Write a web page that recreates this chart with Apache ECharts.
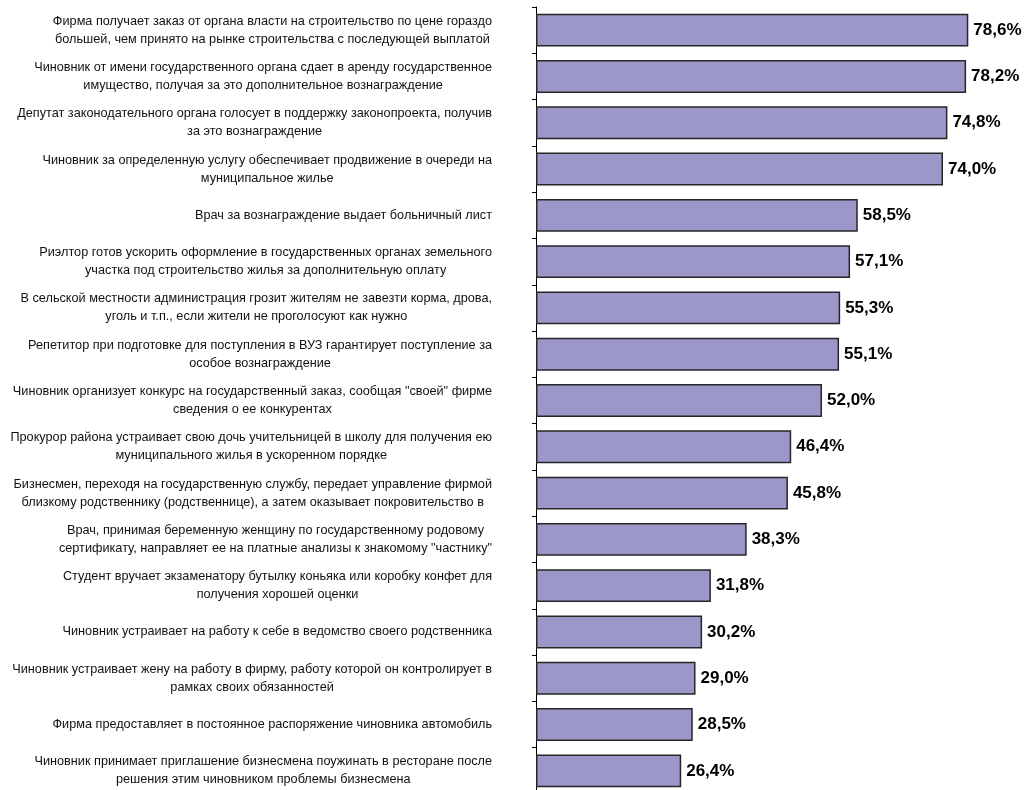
<!DOCTYPE html>
<html>
<head>
<meta charset="utf-8">
<script src="https://cdn.jsdelivr.net/npm/echarts@6/dist/echarts.min.js"></script>
<style>html,body{margin:0;padding:0;background:#fff;}#c{width:1031px;height:790px;}</style>
</head>
<body>
<div id="c"></div>
<script>
const categories = [
  "Фирма получает заказ от органа власти на строительство по цене гораздо\nбольшей, чем принято на рынке строительства с последующей выплатой",
  "Чиновник от имени государственного органа сдает в аренду государственное\nимущество, получая за это дополнительное вознаграждение",
  "Депутат законодательного органа голосует в поддержку законопроекта, получив\nза это вознаграждение",
  "Чиновник за определенную услугу обеспечивает продвижение в очереди на\nмуниципальное жилье",
  "Врач за вознаграждение выдает больничный лист",
  "Риэлтор готов ускорить оформление в государственных органах земельного\nучастка под строительство жилья за дополнительную оплату",
  "В сельской местности администрация грозит жителям не завезти корма, дрова,\nуголь и т.п., если жители не проголосуют как нужно",
  "Репетитор при подготовке для поступления в ВУЗ гарантирует поступление за\nособое вознаграждение",
  "Чиновник организует конкурс на государственный заказ, сообщая \"своей\" фирме\nсведения о ее конкурентах",
  "Прокурор района устраивает свою дочь учительницей в школу для получения ею\nмуниципального жилья в ускоренном порядке",
  "Бизнесмен, переходя на государственную службу, передает управление фирмой\nблизкому родственнику (родственнице), а затем оказывает покровительство в",
  "Врач, принимая беременную женщину по государственному родовому\nсертификату, направляет ее на платные анализы к знакомому \"частнику\"",
  "Студент вручает экзаменатору бутылку коньяка или коробку конфет для\nполучения хорошей оценки",
  "Чиновник устраивает на работу к себе в ведомство своего родственника",
  "Чиновник устраивает жену на работу в фирму, работу которой он контролирует в\nрамках своих обязанностей",
  "Фирма предоставляет в постоянное распоряжение чиновника автомобиль",
  "Чиновник принимает приглашение бизнесмена поужинать в ресторане после\nрешения этим чиновником проблемы бизнесмена"
];
const values = [78.6, 78.2, 74.8, 74.0, 58.5, 57.1, 55.3, 55.1, 52.0, 46.4, 45.8, 38.3, 31.8, 30.2, 29.0, 28.5, 26.4];

const FONT = '"Liberation Sans Narrow", "Arial Narrow", "Liberation Sans", Arial, sans-serif';
const chart = echarts.init(document.getElementById('c'));
chart.setOption({
  animation: false,
  backgroundColor: '#fff',
  grid: { left: 536, top: 7, width: 440, bottom: -4, containLabel: false, outerBoundsMode: 'none' },
  xAxis: {
    type: 'value', min: 0, max: 80, show: false
  },
  yAxis: {
    type: 'category', data: categories, inverse: true,
    axisLine: { show: true, lineStyle: { color: '#000', width: 1 } },
    axisTick: { show: true, length: 4, lineStyle: { color: '#000' } },
    axisLabel: {
      margin: 44, align: 'right', hideOverlap: false,
      fontFamily: FONT, fontSize: 12.7, color: '#111', lineHeight: 18,
      formatter: function (v) {
        return v.split('\n').map(function (l) { return '{c|' + l + '}'; }).join('\n');
      },
      rich: { c: { align: 'center', fontSize: 12.7, lineHeight: 18, color: '#111', fontFamily: FONT } }
    },
    splitLine: { show: false }
  },
  series: [{
    type: 'bar', data: values, barCategoryGap: '29%',
    itemStyle: { color: '#9c97c9', borderColor: '#262626', borderWidth: 1.5 },
    label: {
      show: true, position: 'right', distance: 5,
      fontFamily: FONT, fontWeight: 'bold', fontSize: 17, color: '#000',
      formatter: function (p) { return p.value.toFixed(1).replace('.', ',') + '%'; }
    }
  }]
});
</script>
</body>
</html>
